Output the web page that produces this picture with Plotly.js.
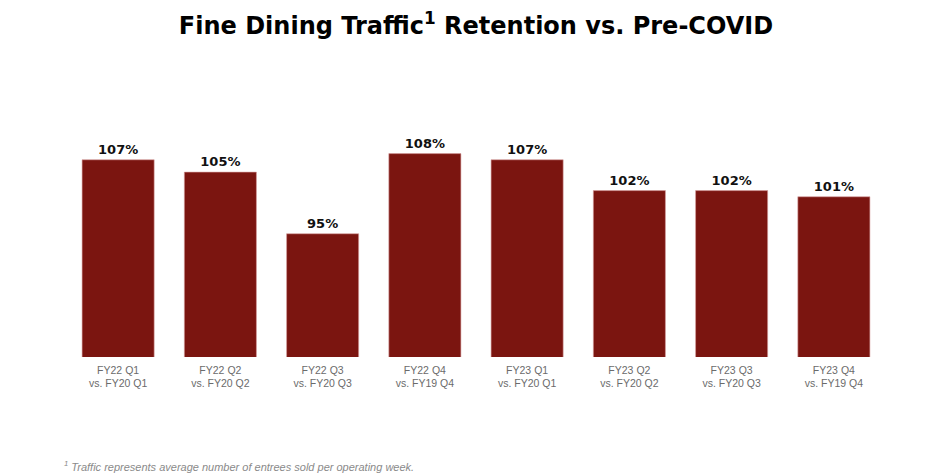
<!DOCTYPE html>
<html>
<head>
<meta charset="utf-8">
<script src="https://cdn.plot.ly/plotly-3.0.1.min.js"></script>
<style>
html,body{margin:0;padding:0;background:#fff;}
#chart{width:940px;height:474px;}
</style>
</head>
<body>
<div id="chart"></div>
<script>
const categories = [
  "FY22 Q1<br>vs. FY20 Q1",
  "FY22 Q2<br>vs. FY20 Q2",
  "FY22 Q3<br>vs. FY20 Q3",
  "FY22 Q4<br>vs. FY19 Q4",
  "FY23 Q1<br>vs. FY20 Q1",
  "FY23 Q2<br>vs. FY20 Q2",
  "FY23 Q3<br>vs. FY20 Q3",
  "FY23 Q4<br>vs. FY19 Q4"
];
const retention = [107, 105, 95, 108, 107, 102, 102, 101];
const valueLabels = ["107%", "105%", "95%", "108%", "107%", "102%", "102%", "101%"];

const trace = {
  type: "bar",
  x: categories,
  y: retention,
  text: valueLabels,
  textposition: "outside",
  cliponaxis: false,
  textfont: {family: "DejaVu Sans, sans-serif", size: 13, color: "#111", weight: "bold"},
  marker: {color: "#7B1510", line: {color: "#d7a0a0", width: 0.6}},
  hoverinfo: "none"
};

const layout = {
  width: 940,
  height: 474,
  margin: {l: 67, r: 55, t: 100, b: 117},
  paper_bgcolor: "#fff",
  plot_bgcolor: "#fff",
  showlegend: false,
  bargap: 0.295,
  title: {
    text: "<b>Fine Dining Traffic<sup>1</sup> Retention vs. Pre-COVID</b>",
    font: {family: "DejaVu Sans, sans-serif", size: 24, color: "#000"},
    x: 0.5, xanchor: "center", xref: "paper",
    y: 0.945, yanchor: "middle", yref: "container"
  },
  xaxis: {
    type: "category",
    showgrid: false, zeroline: false, showline: false,
    ticks: "",
    ticklabelstandoff: 5,
    tickfont: {family: "Liberation Sans, sans-serif", size: 10.5, color: "#6b6b6b"},
    automargin: false
  },
  yaxis: {
    range: [75, 116.7],
    visible: false,
    showgrid: false, zeroline: false
  },
  annotations: [{
    text: "<i><sup>1</sup> Traffic represents average number of entrees sold per operating week.</i>",
    xref: "paper", yref: "paper",
    x: -0.006, y: 0,
    xanchor: "left", yanchor: "middle",
    yshift: -109,
    showarrow: false,
    font: {family: "Liberation Sans, sans-serif", size: 11, color: "#8a8a8a"}
  }]
};

Plotly.newPlot("chart", [trace], layout, {displayModeBar: false, staticPlot: true});
</script>
</body>
</html>
